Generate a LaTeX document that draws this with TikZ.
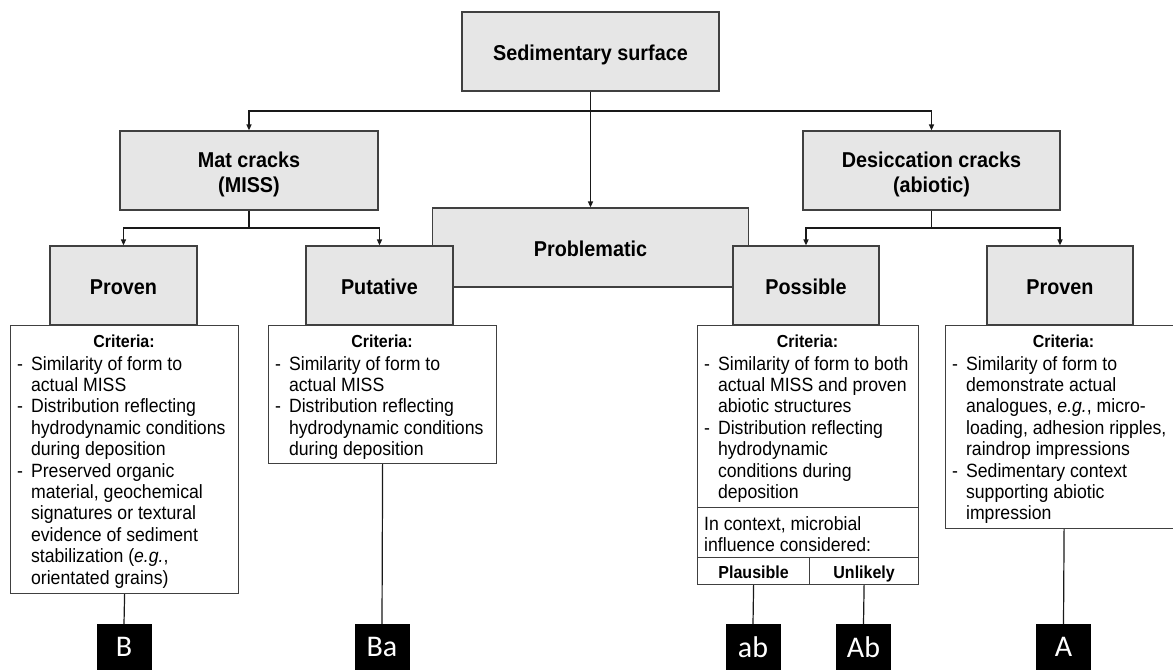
\documentclass[tikz,border=0pt]{standalone}
\usepackage{fontspec}
\setmainfont{Liberation Sans}[FakeStretch=0.92]
\newfontfamily\lblfont{Carlito}
\usetikzlibrary{arrows.meta}
\definecolor{boxgray}{HTML}{E6E6E6}
\definecolor{bordergray}{HTML}{404040}
\newcommand{\crlist}[1]{\begin{tabular}[t]{@{}l@{\hspace{8pt}}l@{}}#1\end{tabular}}
\begin{document}
\begin{tikzpicture}[x=1pt,y=-1pt,
  graybox/.style={draw=bordergray, fill=boxgray, line width=1.2pt, inner sep=0pt},
  whitebox/.style={draw=bordergray, fill=white, line width=1.2pt, inner sep=0pt},
  conn/.style={draw=black!90, line width=1.4pt},
  arr/.style={conn, -{Triangle[length=6pt,width=5pt]}},
  head/.style={font=\fontsize{21.5}{25}\selectfont\bfseries, align=center},
  oneline/.style={text height=17pt, text depth=0pt},
  critline/.style={text height=15.5pt, text depth=0pt},
  crit/.style={font=\fontsize{17.4}{20}\selectfont\bfseries, inner sep=0pt},
  body/.style={font=\fontsize{19.2}{21.4}\selectfont, anchor=base west, inner sep=0pt},
  lbl/.style={fill=black, text=white, font=\lblfont\fontsize{30}{30}\selectfont, minimum width=55pt, minimum height=46pt, inner sep=0pt, anchor=north}
]
\fill[white] (0,0) rectangle (1173,670);
\useasboundingbox (0,0) rectangle (1173,670);

% top levels
\node[graybox, head, oneline, minimum width=257pt, minimum height=79pt] (sed) at (590.5,51.5) {Sedimentary surface};
\node[graybox, minimum width=258pt, minimum height=79pt] (mat) at (249,170.5) {};
\node[head, inner sep=0pt] (matT) at ([yshift=-3.5pt]mat.center) {Mat cracks\\(MISS)};
\node[graybox, minimum width=257pt, minimum height=79pt] (des) at (931.5,170.5) {};
\node[head, inner sep=0pt] (desT) at ([yshift=-3.5pt]des.center) {Desiccation cracks\\(abiotic)};
\node[graybox, head, oneline, minimum width=316pt, minimum height=79pt] (prob) at (590.5,247.5) {Problematic};
\node[graybox, head, oneline, minimum width=147pt, minimum height=79pt] (provL) at (123.5,285.5) {Proven};
\node[graybox, head, oneline, minimum width=147pt, minimum height=79pt] (puta) at (379.5,285.5) {Putative};
\node[graybox, head, oneline, minimum width=146pt, minimum height=79pt] (poss) at (806,285.5) {Possible};
\node[graybox, head, oneline, minimum width=146pt, minimum height=79pt] (provR) at (1060,285.5) {Proven};

% connectors
\coordinate (j1) at (590.5,111);
\coordinate (j2) at (249,228);
\coordinate (j3) at (931.5,228);
\draw[arr] (sed.south) -- (prob.north);
\draw[arr] (j1) -| (mat.north);
\draw[arr] (j1) -| (des.north);
\draw[conn] (mat.south) -- (j2);
\draw[arr] (j2) -| (provL.north);
\draw[arr] (j2) -| (puta.north);
\draw[conn] (des.south) -- (j3);
\draw[arr] (j3) -| (poss.north);
\draw[arr] (j3) -| (provR.north);

% criteria boxes
\node[whitebox, anchor=north west, minimum width=228pt, minimum height=268pt] (cL) at (10,325) {};
\node[whitebox, anchor=north west, minimum width=228pt, minimum height=138pt] (cPu) at (268,325) {};
\node[whitebox, anchor=north west, minimum width=221pt, minimum height=182pt] (cPo) at (697,325) {};
\node[whitebox, anchor=north west, minimum width=221pt, minimum height=50pt] (ctx) at (697,507) {};
\node[whitebox, crit, critline, anchor=north west, minimum width=112pt, minimum height=27pt] (pla) at (697,557) {Plausible};
\node[whitebox, crit, critline, anchor=north west, minimum width=109pt, minimum height=27pt] (unl) at (809,557) {Unlikely};
\node[whitebox, anchor=north west, minimum width=237pt, minimum height=203pt] (cR) at (945,325) {};

% criteria texts
\node[crit, anchor=base] (hL) at (124,347) {Criteria:};
\node[body] (tL) at (17,370) {\crlist{%
- & Similarity of form to\\
  & actual MISS\\
- & Distribution reflecting\\
  & hydrodynamic conditions\\
  & during deposition\\
- & Preserved organic\\
  & material, geochemical\\
  & signatures or textural\\
  & evidence of sediment\\
  & stabilization (\textit{e.g.},\\
  & orientated grains)}};

\node[crit, anchor=base] (hPu) at (382,347) {Criteria:};
\node[body] (tPu) at (275,370) {\crlist{%
- & Similarity of form to\\
  & actual MISS\\
- & Distribution reflecting\\
  & hydrodynamic conditions\\
  & during deposition}};

\node[crit, anchor=base] (hPo) at (807.5,347) {Criteria:};
\node[body] (tPo) at (704,370) {\crlist{%
- & Similarity of form to both\\
  & actual MISS and proven\\
  & abiotic structures\\
- & Distribution reflecting\\
  & hydrodynamic\\
  & conditions during\\
  & deposition}};
\node[body] (tctx) at (704,530) {\begin{tabular}[t]{@{}l@{}}In context, microbial\\influence considered:\end{tabular}};

\node[crit, anchor=base] (hR) at (1063.5,347) {Criteria:};
\node[body] (tR) at (952,370) {\crlist{%
- & Similarity of form to\\
  & demonstrate actual\\
  & analogues, \textit{e.g.}, micro-\\
  & loading, adhesion ripples,\\
  & raindrop impressions\\
- & Sedimentary context\\
  & supporting abiotic\\
  & impression}};

% outcome labels
\node[lbl] (B) at (124,624) {B};
\node[lbl] (Ba) at (382,624) {Ba};
\node[lbl] (ab) at (753,624) {ab};
\node[lbl] (Ab) at (863.5,624) {Ab};
\node[lbl] (A) at (1063.5,624) {A};

\draw[conn, line width=1.2pt] (cL.south) -- (B.north);
\draw[conn, line width=1.2pt] (cPu.south) -- (Ba.north);
\draw[conn, line width=1.2pt] (pla.south) -- (ab.north);
\draw[conn, line width=1.2pt] (unl.south) -- (Ab.north);
\draw[conn, line width=1.2pt] (cR.south) -- (A.north);
\end{tikzpicture}
\end{document}
